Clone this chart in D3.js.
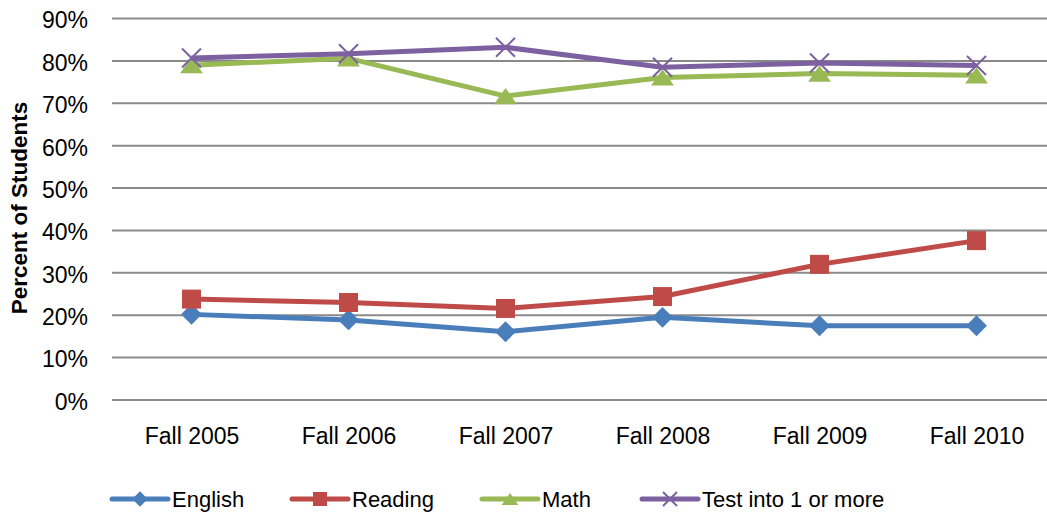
<!DOCTYPE html>
<html>
<head>
<meta charset="utf-8">
<script src="https://cdn.jsdelivr.net/npm/d3@7/dist/d3.min.js"></script>
<style>
  html, body { margin: 0; padding: 0; background: #fff; }
  svg { display: block; font-family: "Liberation Sans", Arial, sans-serif; }
</style>
</head>
<body>
<svg id="chart" width="1047" height="513"></svg>
<script>
// Cohort years
const categories = ["Fall 2005", "Fall 2006", "Fall 2007", "Fall 2008", "Fall 2009", "Fall 2010"];

// Share of students per placement area (percent)
const english = [20.2, 18.9, 16.1, 19.5, 17.5, 17.5];
const reading = [23.8, 23.0, 21.6, 24.4, 32.0, 37.6];
const math    = [79.0, 80.6, 71.7, 76.1, 77.0, 76.6];
const testAny = [80.7, 81.7, 83.2, 78.5, 79.5, 78.9];

const yTicks = [0, 10, 20, 30, 40, 50, 60, 70, 80, 90];

const series = [
  { name: "English", values: english, color: "#4A7EBB", marker: "diamond" },
  { name: "Reading", values: reading, color: "#BE4B48", marker: "square" },
  { name: "Math", values: math, color: "#98B954", marker: "triangle" },
  { name: "Test into 1 or more", values: testAny, color: "#7D60A0", marker: "cross" }
];

const svg = d3.select("#chart");

const plotLeft = 112, plotRight = 1055;
const x = d3.scalePoint().domain(categories).range([191.5, 976.5]);
const y = d3.scaleLinear().domain([0, 90]).range([400, 18.5]);

// Horizontal gridlines
svg.append("g")
  .selectAll("line")
  .data(yTicks)
  .join("line")
  .attr("x1", plotLeft).attr("x2", plotRight)
  .attr("y1", d => y(d)).attr("y2", d => y(d))
  .attr("stroke", "#8A8A8A")
  .attr("stroke-width", 2);

// Y axis labels
const yAxis = d3.axisLeft(y).tickValues(yTicks).tickFormat(d => d + "%").tickSize(0).tickPadding(0);
const yg = svg.append("g").attr("transform", "translate(88,2)").call(yAxis);
yg.select(".domain").remove();
yg.selectAll("text").attr("font-size", 23).attr("fill", "#000")
  .attr("font-family", "'Liberation Sans', Arial, sans-serif");

// X axis labels
const xAxis = d3.axisBottom(x).tickSize(0).tickPadding(0);
const xg = svg.append("g").attr("transform", "translate(0,428)").call(xAxis);
xg.select(".domain").remove();
xg.selectAll("text").attr("font-size", 23).attr("fill", "#000")
  .attr("font-family", "'Liberation Sans', Arial, sans-serif");

// Y axis title
svg.append("text")
  .attr("transform", "translate(27,208) rotate(-90)")
  .attr("text-anchor", "middle")
  .attr("font-size", 22.5)
  .attr("font-weight", "bold")
  .attr("fill", "#000")
  .text("Percent of Students");

function drawMarker(g, type, color, s) {
  if (type === "diamond") {
    g.append("path").attr("d", `M0,${-s*0.55}L${s*0.55},0L0,${s*0.55}L${-s*0.55},0Z`).attr("fill", color);
  } else if (type === "square") {
    g.append("rect").attr("x", -s/2).attr("y", -s/2).attr("width", s).attr("height", s).attr("fill", color);
  } else if (type === "triangle") {
    const h = s * 0.85;
    g.append("path").attr("d", `M0,${-h/2}L${s*0.6},${h/2}L${-s*0.6},${h/2}Z`).attr("fill", color);
  } else if (type === "cross") {
    const r = s * 0.5;
    g.append("path").attr("d", `M${-r},${-r}L${r},${r}M${-r},${r}L${r},${-r}`)
      .attr("stroke", color).attr("stroke-width", 2).attr("fill", "none");
  }
}

const line = d3.line()
  .x((d, i) => x(categories[i]))
  .y(d => y(d));

// Series lines and markers
series.forEach(s => {
  const g = svg.append("g");
  g.append("path")
    .attr("d", line(s.values))
    .attr("fill", "none")
    .attr("stroke", s.color)
    .attr("stroke-width", 5)
    .attr("stroke-linejoin", "round");
  s.values.forEach((v, i) => {
    const mg = g.append("g").attr("transform", `translate(${x(categories[i])},${y(v)})`);
    drawMarker(mg, s.marker, s.color, 19);
  });
});

// Legend
const legendX = [112, 292, 482, 642];
const legendY = 499;
series.forEach((s, i) => {
  const g = svg.append("g").attr("transform", `translate(${legendX[i]},${legendY})`);
  g.append("line").attr("x1", 0).attr("x2", 56).attr("y1", 0).attr("y2", 0)
    .attr("stroke", s.color).attr("stroke-width", 5).attr("stroke-linecap", "round");
  const mg = g.append("g").attr("transform", "translate(28,0)");
  drawMarker(mg, s.marker, s.color, 14);
  g.append("text").attr("x", 60).attr("y", 8)
    .attr("font-size", 22).attr("fill", "#000")
    .text(s.name);
});
</script>
</body>
</html>
